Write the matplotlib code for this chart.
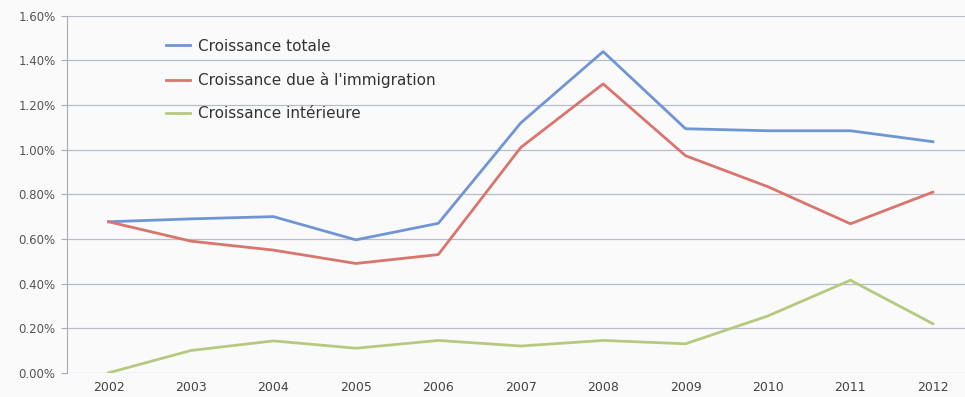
import matplotlib.pyplot as plt
from matplotlib.ticker import FuncFormatter

years = [2002, 2003, 2004, 2005, 2006, 2007, 2008, 2009, 2010, 2011, 2012]
croissance_totale = [0.677, 0.69, 0.70, 0.596, 0.67, 1.12, 1.44, 1.094, 1.085, 1.085, 1.036]
croissance_immigration = [0.677, 0.59, 0.55, 0.49, 0.53, 1.01, 1.295, 0.973, 0.834, 0.668, 0.81]
croissance_interieure = [0.0, 0.10, 0.143, 0.11, 0.145, 0.12, 0.145, 0.13, 0.255, 0.415, 0.22]
yticks = [0.0, 0.2, 0.4, 0.6, 0.8, 1.0, 1.2, 1.4, 1.6]

fig = plt.figure(figsize=(9.65, 3.97), dpi=100)
fig.patch.set_facecolor('#fafafb')
ax = fig.add_axes([0.069, 0.061, 0.931, 0.899])
ax.set_facecolor('#fafafb')

ax.plot(years, croissance_totale, color='#6f95d4', lw=2.0, label='Croissance totale')
ax.plot(years, croissance_immigration, color='#d9756d', lw=2.0, label="Croissance due à l'immigration")
ax.plot(years, croissance_interieure, color='#b7c97e', lw=2.0, label='Croissance intérieure')

ax.set_ylim(0, 1.6)
ax.set_xlim(2001.49, 2012.39)
ax.set_yticks(yticks)
ax.yaxis.set_major_formatter(FuncFormatter(lambda v, p: f"{v:.2f}%"))
ax.set_xticks(years)
ax.grid(axis='y', color='#b9bccb', lw=0.9)
ax.set_axisbelow(True)
for s in ['top', 'right', 'bottom']:
    ax.spines[s].set_visible(False)
ax.spines['left'].set_color('#a8abb8')
ax.tick_params(axis='y', length=4, color='#a8abb8', labelsize=8.5, labelcolor='#555555', pad=4)
ax.tick_params(axis='x', length=0, labelsize=9, labelcolor='#444444', pad=6)

ax.legend(loc='upper left', bbox_to_anchor=(0.095, 0.975), frameon=False, fontsize=11,
          handlelength=1.6, handletextpad=0.5, labelspacing=1.2, labelcolor='#333333')

fig.savefig('out.png', dpi=100, facecolor=fig.get_facecolor())
